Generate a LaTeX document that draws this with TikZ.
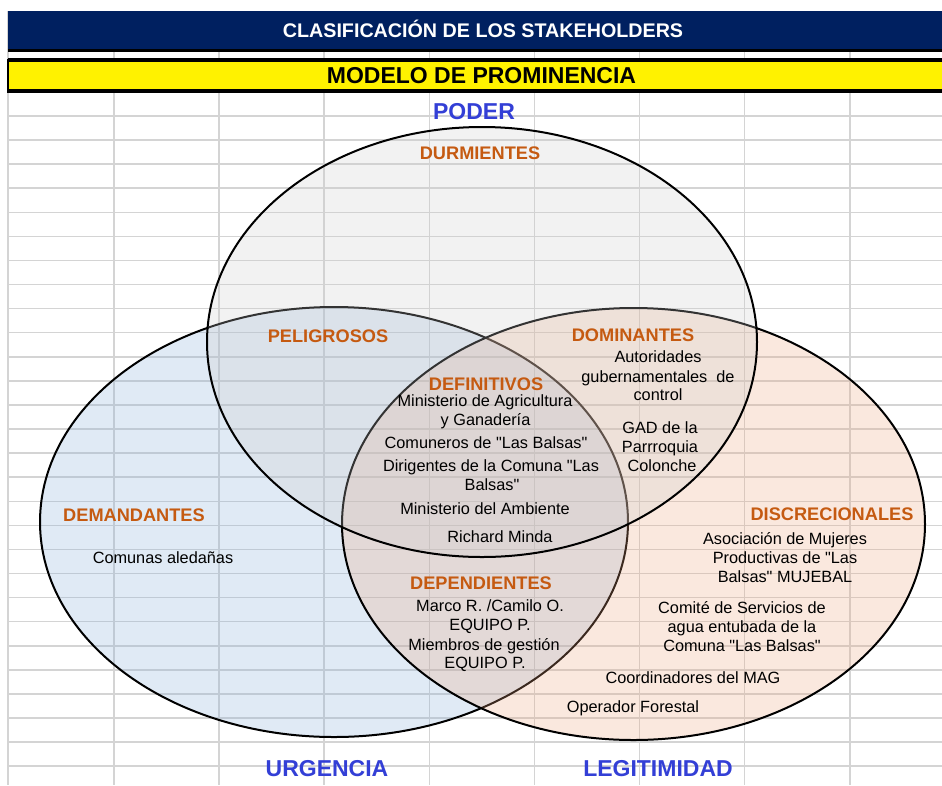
\documentclass[tikz,border=0pt]{standalone}
\usepackage{fontspec}
\setmainfont{Liberation Sans}[Ligatures=TeXOff]
\definecolor{navy}{RGB}{0,32,96}
\definecolor{gridc}{RGB}{212,212,212}
\definecolor{orangec}{RGB}{197,90,17}
\definecolor{bluec}{RGB}{51,63,214}
\definecolor{ellL}{RGB}{135,175,219}
\definecolor{ellR}{RGB}{239,167,127}
\definecolor{ellT}{RGB}{205,205,205}
\begin{document}
\begin{tikzpicture}[x=1pt,y=-1pt,
  gridline/.style={draw=gridc,line width=1.5pt},
  venn/.style={draw=black,line width=2pt,fill opacity=0.25},
  item/.style={font=\fontsize{16.3}{19}\selectfont,inner sep=0pt,anchor=base},
  cat/.style={font=\bfseries\fontsize{18.2}{20}\selectfont,text=orangec,inner sep=0pt,anchor=base},
  axislbl/.style={font=\bfseries\fontsize{23}{26}\selectfont,text=bluec,inner sep=0pt,anchor=base},
  hdr/.style={font=\bfseries\fontsize{19.7}{22}\selectfont,inner sep=0pt,anchor=base}]
\useasboundingbox (0,0) rectangle (942,785);
\fill[white] (0,0) rectangle (942,785);
% spreadsheet grid
\foreach \k in {0,...,27} \draw[gridline] (8,{116+24.08*\k}) -- (942,{116+24.08*\k});
\foreach \k in {0,...,7} \draw[gridline] ({113.8+105.15*\k},11) -- ({113.8+105.15*\k},785);
\draw[gridline,line width=2pt] (8,11) -- (8,785);
% header bars
\fill[navy] (8,11) rectangle (942,49.5);
\draw[black,line width=2.5pt] (8,50.5) -- (942,50.5);
\fill[yellow] (8,60) rectangle (942,91);
\draw[black,line width=3.2pt] (8,60) -- (942,60);
\draw[black,line width=3.2pt] (8,91) -- (942,91);
\draw[black,line width=1.5pt] (8,58.5) -- (8,92.5);
\node[hdr,text=white] (title) at (483,37) {CLASIFICACIÓN DE LOS STAKEHOLDERS};
\node[hdr,font=\bfseries\fontsize{23}{26}\selectfont] (modelo) at (481.5,83.7) {MODELO DE PROMINENCIA};
% Venn ellipses
\path[venn,fill=ellL] (334,522) ellipse [x radius=294pt,y radius=215pt];
\path[venn,fill=ellR] (633.5,524) ellipse [x radius=291.5pt,y radius=216pt];
\path[venn,fill=ellT] (482,342) ellipse [x radius=275pt,y radius=215pt];
% axis labels
\node[axislbl] (poder) at (474,119.2) {PODER};
\node[axislbl] (urgencia) at (327,776.2) {URGENCIA};
\node[axislbl] (legitimidad) at (658,776.2) {LEGITIMIDAD};
% category labels
\node[cat] (durm) at (480,159.4) {DURMIENTES};
\node[cat] (pelig) at (328,342.4) {PELIGROSOS};
\node[cat] (domin) at (633,341.4) {DOMINANTES};
\node[cat] (defin) at (486,390.4) {DEFINITIVOS};
\node[cat] (deman) at (134,521.4) {DEMANDANTES};
\node[cat] (discr) at (832,520.4) {DISCRECIONALES};
\node[cat] (depen) at (481,589.4) {DEPENDIENTES};
% definitivos
\node[item] (def1) at (485,406.8) {Ministerio de Agricultura};
\node[item] (def2) at (485.5,425.8) {y Ganadería};
\node[item] (def3) at (486,448.8) {Comuneros de "Las Balsas"};
\node[item] (def4) at (491,471.8) {Dirigentes de la Comuna "Las};
\node[item] (def5) at (492,490.8) {Balsas"};
\node[item] (def6) at (485,514.8) {Ministerio del Ambiente};
\node[item] (def7) at (500,542.8) {Richard Minda};
% dependientes
\node[item] (dep1) at (490,611.8) {Marco R. /Camilo O.};
\node[item] (dep2) at (490,630.8) {EQUIPO P.};
\node[item] (dep3) at (484,650.8) {Miembros de gestión};
\node[item] (dep4) at (485,668.8) {EQUIPO P.};
% dominantes
\node[item] (dom1) at (658,362.8) {Autoridades};
\node[item] (dom2) at (658,382.8) {gubernamentales\ \ de};
\node[item] (dom3) at (658,400.8) {control};
\node[item] (dom4) at (660,433.8) {GAD de la};
\node[item] (dom5) at (660,452.8) {Parrroquia};
\node[item] (dom6) at (662,471.8) {Colonche};
% discrecionales
\node[item] (dis1) at (785,544.8) {Asociación de Mujeres};
\node[item] (dis2) at (785,563.8) {Productivas de "Las};
\node[item] (dis3) at (785,582.8) {Balsas" MUJEBAL};
\node[item] (dis4) at (742,613.8) {Comité de Servicios de};
\node[item] (dis5) at (742,632.8) {agua entubada de la};
\node[item] (dis6) at (742,651.8) {Comuna "Las Balsas"};
\node[item] (dis7) at (693,683.8) {Coordinadores del MAG};
\node[item] (dis8) at (633,712.8) {Operador Forestal};
% demandantes
\node[item] (dem1) at (163,563.8) {Comunas\ aledañas};
\end{tikzpicture}
\end{document}
